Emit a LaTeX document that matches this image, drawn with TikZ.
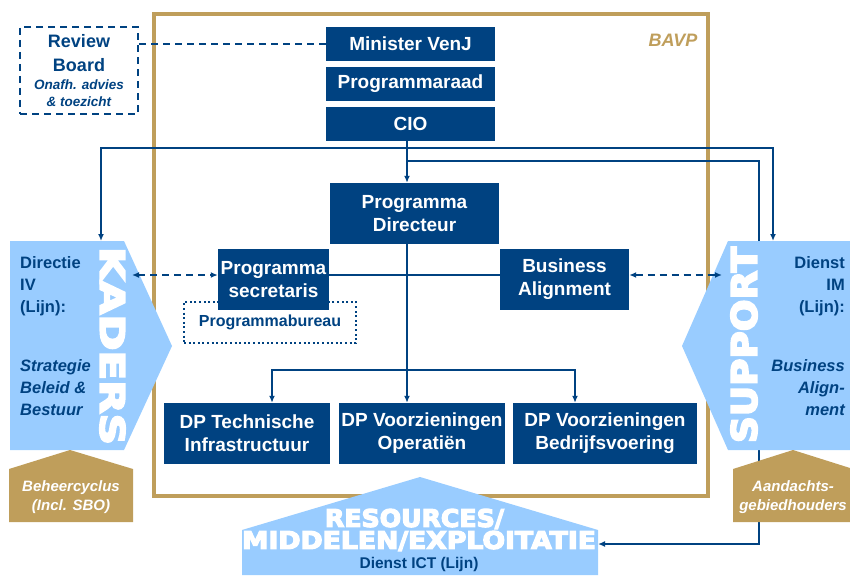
\documentclass[tikz,border=0pt]{standalone}
\usepackage{fontspec}
\setmainfont{Liberation Sans}
\newfontfamily\heavyfont{DejaVu Sans}[BoldFeatures={FakeBold=5}]
\usetikzlibrary{arrows.meta}
\definecolor{vjblauw}{RGB}{0,66,129}
\definecolor{vjlicht}{RGB}{153,204,255}
\definecolor{vjgoud}{RGB}{191,158,91}
\newcommand\blokfont{\fontsize{19}{23}\selectfont\bfseries}
\newcommand\zijfont{\fontsize{16.5}{22}\selectfont\bfseries}
\newcommand\zwaar[3]{\resizebox{#1pt}{#2pt}{\heavyfont\bfseries #3}}
\tikzset{
  blok/.style={fill=vjblauw, text=white, font=\blokfont, align=center,
    inner sep=0pt, minimum height=61pt},
  lijn/.style={vjblauw, line width=1.4pt},
  streep/.style={vjblauw, line width=2pt, dash pattern=on 7pt off 5pt},
  pijl/.style={-{Latex[length=7pt,width=6pt]}},
  dubbel/.style={{Latex[length=7pt,width=6pt]}-{Latex[length=7pt,width=6pt]}},
  huis/.style={text=white, font=\fontsize{15}{19}\selectfont\bfseries\itshape, align=center, inner sep=0pt},
  wit/.style={text=white, inner sep=0pt}
}
\begin{document}
\begin{tikzpicture}[x=1pt,y=-1pt]
    \useasboundingbox (0,0) rectangle (850,575);

    \draw[vjgoud, line width=4pt] (154,14) rectangle (708,496);
    \node[text=vjgoud, font=\fontsize{18}{20}\selectfont\bfseries\itshape] (bavp) at (673,40) {BAVP};

    \node[blok, minimum width=169pt, minimum height=34pt] (minister) at (410.5,44) {Minister VenJ};
    \node[blok, minimum width=169pt, minimum height=34pt] (raad) at (410.5,84) {Programmaraad};
    \node[blok, minimum width=169pt, minimum height=34pt] (cio) at (410.5,124) {CIO};

    \node[draw=vjblauw, line width=2pt, dash pattern=on 7pt off 5pt, text=vjblauw,
      minimum width=118pt, minimum height=87pt, inner sep=0pt, align=center,
      font=\fontsize{18}{24}\selectfont\bfseries] (review) at (79,70.5)
      {Review\\Board\\[-6pt]{\fontsize{13.5}{16}\selectfont\itshape Onafh. advies}\\[-7pt]{\fontsize{13.5}{16}\selectfont\itshape\& toezicht}};

    \coordinate (spine) at (407,0);
    \coordinate (kin) at (101,241);
    \coordinate (sin) at (773,241);
    \coordinate (knik) at (759,161);
    \coordinate (rin) at (598,544);

    \draw[lijn, dubbel] (kin) -- ++(0,-93) -| (sin);
    \draw[lijn, pijl] (cio.south -| spine) |- (knik) |- (rin);

    \fill[vjlicht] (10,241) -- (124,241) -- (172,346) -- (124,450) -- (10,450) -- cycle;
    \fill[vjlicht] (850,241) -- (728,241) -- (682,346) -- (728,450) -- (850,450) -- cycle;
    \fill[vjgoud] (9,522) -- (9,469) -- (70,450) -- (133,469) -- (133,522) -- cycle;
    \fill[vjgoud] (733,522) -- (733,469) -- (793,450) -- (850,468) -- (850,522) -- cycle;
    \fill[vjlicht] (242,575) -- (242,530) -- (420,477) -- (598,530) -- (598,575) -- cycle;

    \node[wit, rotate=-90] (kaders) at (112.5,346) {\zwaar{198}{25}{KADERS}};
    \node[wit, rotate=90] (support) at (744,345) {\zwaar{196}{26}{SUPPORT}};
    \node[wit] (resources) at (414.5,519) {\zwaar{179}{18}{RESOURCES/}};
    \node[wit] (middelen) at (419,541) {\zwaar{354}{18}{MIDDELEN/EXPLOITATIE}};
    \node[text=vjblauw, font=\fontsize{15.5}{18}\selectfont\bfseries, inner sep=0pt] (ict) at (419,564) {Dienst ICT (Lijn)};

    \node[text=vjblauw, font=\zijfont, align=left, anchor=north west, inner sep=0pt] (directie) at (20,256)
      {Directie\\IV\\(Lijn):\\[37pt]{\itshape Strategie}\\{\itshape Beleid \&}\\{\itshape Bestuur}};
    \node[text=vjblauw, font=\zijfont, align=right, anchor=north east, inner sep=0pt] (dienstim) at (845,256)
      {Dienst\\IM\\(Lijn):\\[37pt]{\itshape Business}\\{\itshape Align-}\\{\itshape ment}};

    \node[huis] (beheer) at (71,497) {Beheercyclus\\(Incl. SBO)};
    \node[huis] (aandacht) at (793,497) {Aandachts-\\gebiedhouders};

    \node[draw=vjblauw, line width=2pt, dash pattern=on 2pt off 2.6pt, text=vjblauw,
      minimum width=172pt, minimum height=41pt, inner sep=0pt,
      font=\fontsize{16}{18}\selectfont\bfseries] (bureau) at (270,322.5) {\raisebox{-5pt}{Programmabureau}};

    \node[blok, minimum width=169pt] (directeur) at (414.5,213.5) {Programma\\Directeur};
    \node[blok, minimum width=111pt] (secretaris) at (273.5,279.5) {Programma\\secretaris};
    \node[blok, minimum width=129pt] (business) at (564.5,279.5) {Business\\Alignment};

    \node[blok, minimum width=166pt] (dp1) at (247,433.5) {DP Technische\\Infrastructuur};
    \node[blok, minimum width=166pt] (dp2) at (422,433.5) {DP Voorzieningen\\Operatiën};
    \node[blok, minimum width=184pt] (dp3) at (605,433.5) {DP Voorzieningen\\Bedrijfsvoering};

    \draw[lijn, pijl] (cio.south -| spine) -- (directeur.north -| spine);

    \coordinate (mid) at (407,275);
    \coordinate (kside) at (132,275);
    \coordinate (sside) at (722,275);
    \draw[lijn] (secretaris.east |- mid) -- (business.west |- mid);
    \draw[streep, dubbel] (kside) -- (secretaris.west |- mid);
    \draw[streep, dubbel] (business.east |- mid) -- (sside);
    \draw[streep] (review.east |- minister.west) -- (minister.west);

    \coordinate (fork) at (407,370);
    \draw[lijn] (directeur.south -| spine) -- (fork);
    \draw[lijn, pijl] (fork) -| ([xshift=25pt]dp1.north);
    \draw[lijn, pijl] (fork) -- (dp2.north -| fork);
    \draw[lijn, pijl] (fork) -| ([xshift=-30pt]dp3.north);
\end{tikzpicture}
\end{document}
